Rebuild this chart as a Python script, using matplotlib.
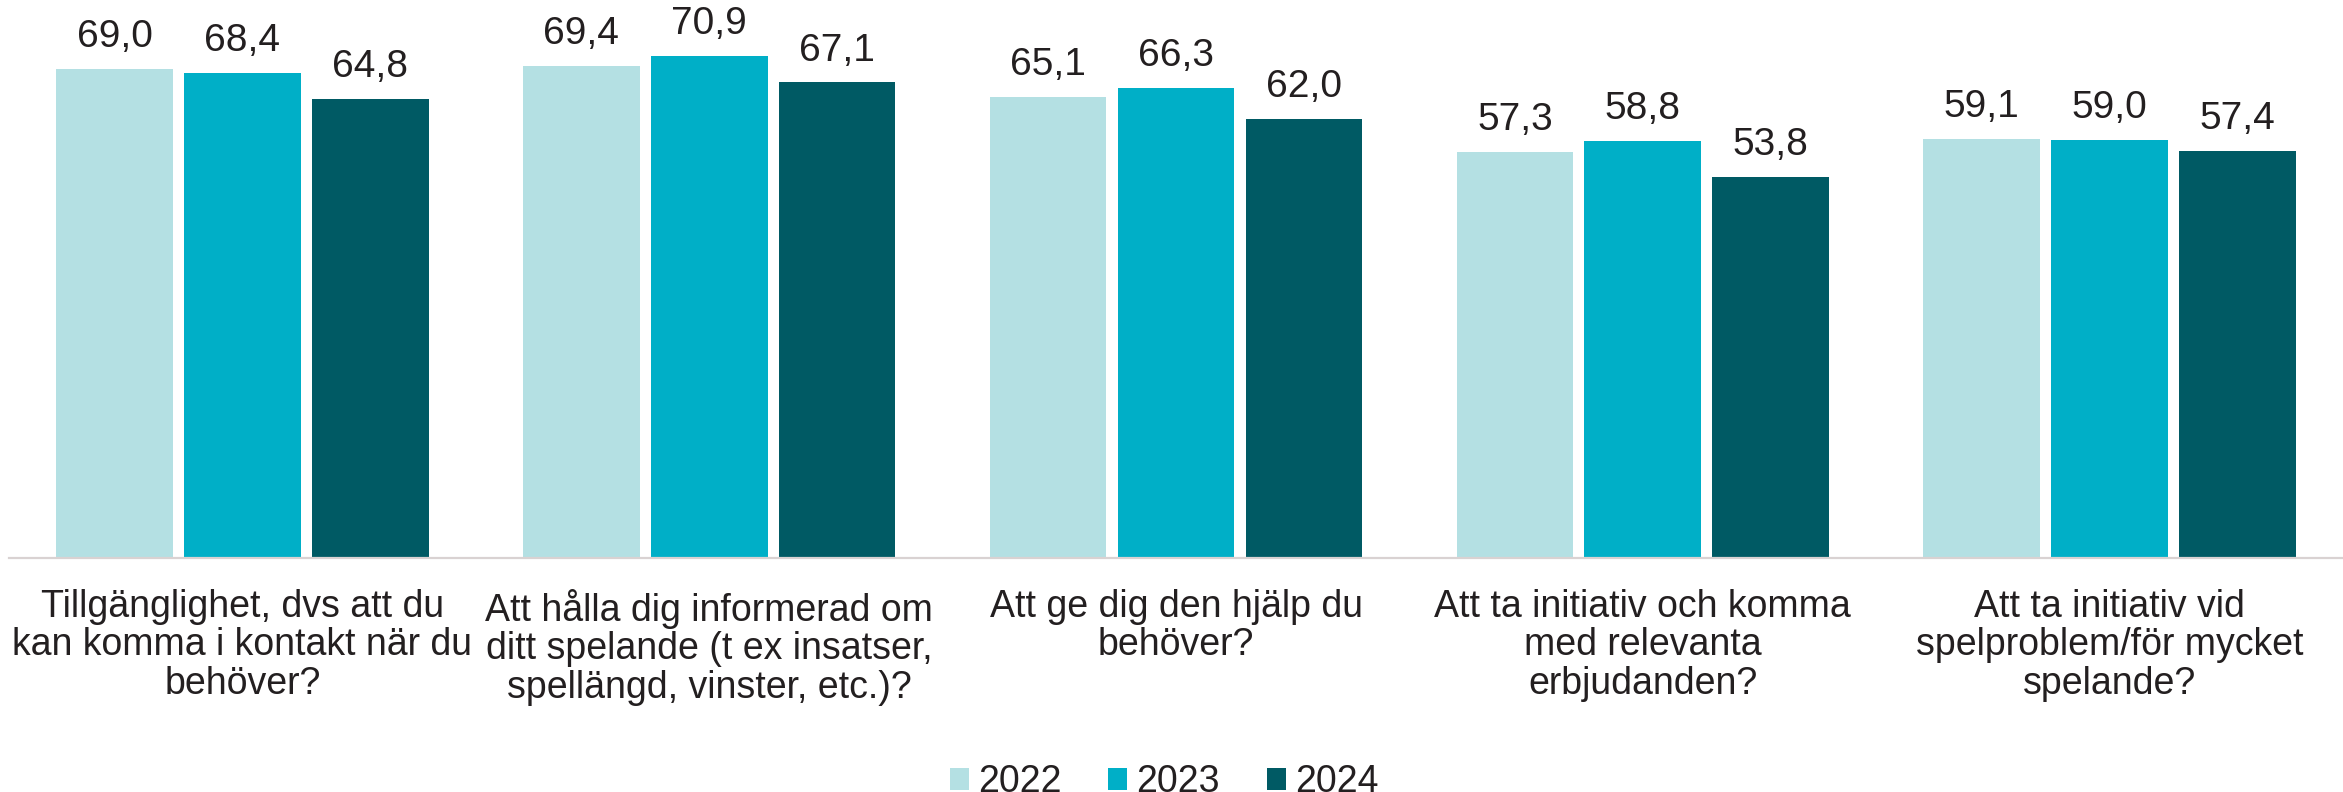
import matplotlib
matplotlib.use("Agg")
import matplotlib.pyplot as plt
from matplotlib.patches import Patch
import numpy as np

categories = [
    "Tillgänglighet, dvs att du\nkan komma i kontakt när du\nbehöver?",
    "Att hålla dig informerad om\nditt spelande (t ex insatser,\nspellängd, vinster, etc.)?",
    "Att ge dig den hjälp du\nbehöver?",
    "Att ta initiativ och komma\nmed relevanta\nerbjudanden?",
    "Att ta initiativ vid\nspelproblem/för mycket\nspelande?",
]
years = ["2022", "2023", "2024"]
v2022 = [69.0, 69.4, 65.1, 57.3, 59.1]
v2023 = [68.4, 70.9, 66.3, 58.8, 59.0]
v2024 = [64.8, 67.1, 62.0, 53.8, 57.4]
series = [v2022, v2023, v2024]
colors = ["#b4e0e3", "#00afc7", "#005a64"]
txt = "#231f20"

plt.rcParams['font.family'] = ['Liberation Sans', 'DejaVu Sans']

W, H = 2343, 792
fig = plt.figure(figsize=(W / 100, H / 100), dpi=100)
left = 9 / W
bottom = (H - 558) / H
ax = fig.add_axes([left, bottom, 1 - left, 558 / H])

x = np.arange(len(categories))
bw = 0.25
offs = [-0.274, 0.0, 0.274]
for s, c, o in zip(series, colors, offs):
    bars = ax.bar(x + o, s, width=bw, color=c, zorder=2)
    for b, v in zip(bars, s):
        ax.annotate(f"{v:.1f}".replace(".", ","), (b.get_x() + b.get_width() / 2, v),
                    xytext=(0, 10), textcoords="offset points", ha="center", va="bottom",
                    fontsize=28, color=txt, annotation_clip=False)

ax.set_xlim(-0.5, len(categories) - 0.5)
ax.set_ylim(0, 558 / 7.087)
ax.set_yticks([])
ax.set_xticks(x)
ax.set_xticklabels(categories, fontsize=27, color=txt, linespacing=1.1)
ax.tick_params(axis="x", length=0, pad=22)
for sp in ["top", "right", "left"]:
    ax.spines[sp].set_visible(False)
ax.spines["bottom"].set_color("#d9d2d2")
ax.spines["bottom"].set_linewidth(1.6)

handles = [Patch(facecolor=c, edgecolor="none") for c in colors]
fig.legend(handles, years, loc="center", bbox_to_anchor=((9 + 2343) / 2 / W - 0.005, 0.012),
           ncol=3, frameon=False, fontsize=27, handlelength=0.5, handleheight=0.5,
           handletextpad=0.25, columnspacing=1.25, borderpad=0, labelcolor=txt)

fig.savefig("out.png", dpi=100)
